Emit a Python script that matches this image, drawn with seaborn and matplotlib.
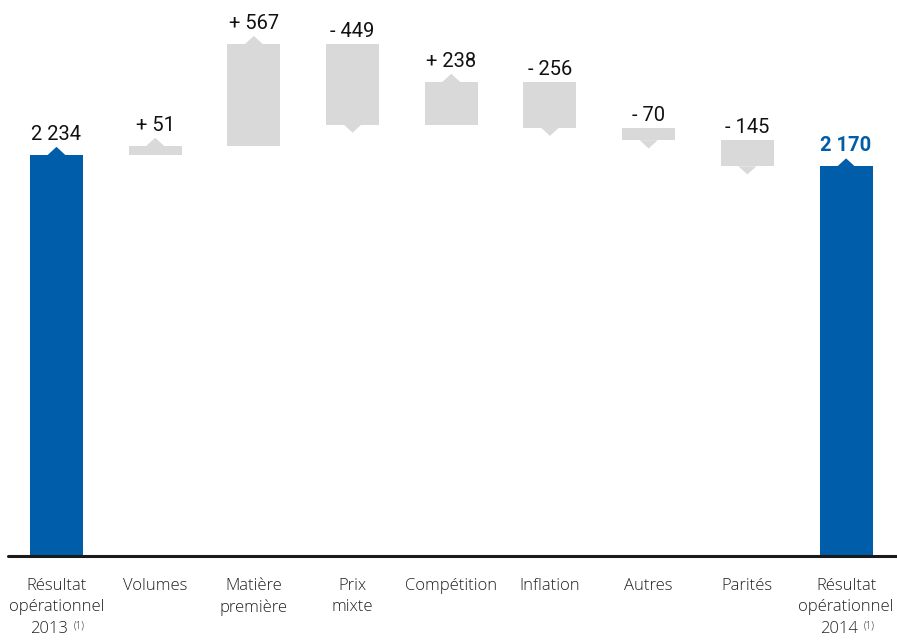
import numpy as np
import pandas as pd
import matplotlib
matplotlib.use("Agg")
import matplotlib.pyplot as plt
import matplotlib.transforms as mtrans
import seaborn as sns

# ---- data ----
categories = ["Résultat\nopérationnel\n2013", "Volumes", "Matière\npremière", "Prix\nmixte",
              "Compétition", "Inflation", "Autres", "Parités", "Résultat\nopérationnel\n2014"]
start_total = 2234
deltas = [51, 567, -449, 238, -256, -70, -145]
end_total = 2170
value_labels = ["2 234", "+ 51", "+ 567", "- 449", "+ 238", "- 256", "- 70", "- 145", "2 170"]
footnote_idx = [0, 8]

BLUE = "#005DAA"
GREY = "#D9D9D9"

# build waterfall geometry from data
bottoms = [0]
heights = [start_total]
level = start_total
for d in deltas:
    lo = min(level, level + d)
    bottoms.append(lo)
    heights.append(abs(d))
    level += d
bottoms.append(0)
heights.append(end_total)
kinds = ["total"] + ["up" if d > 0 else "down" for d in deltas] + ["total"]

df = pd.DataFrame({"cat": categories, "height": heights, "bottom": bottoms})

sns.set_theme(style="white")
plt.rcParams["font.family"] = ["Open Sans", "DejaVu Sans"]

fig = plt.figure(figsize=(8.97, 6.4), dpi=100)
ax = fig.add_axes([8 / 897, 84 / 640, 1 - 8 / 897, 556 / 640])

sns.barplot(data=df, x="cat", y="height", bottom=df["bottom"].values, color=GREY,
            width=0.537, ax=ax, saturation=1, linewidth=0, errorbar=None)
for p, k in zip(ax.patches, kinds):
    p.set_facecolor(BLUE if k == "total" else GREY)
    p.set_edgecolor("none")

ax.set_xlim(-0.491, 8.516)
ax.set_ylim(0, 3097)

tri_hw = 0.091
tri_h = 45
num_font = ["Roboto", "DejaVu Sans"]
for i, (b, h, k, lab) in enumerate(zip(bottoms, heights, kinds, value_labels)):
    top = b + h
    col = BLUE if k == "total" else GREY
    if k in ("total", "up"):
        ax.fill([i - tri_hw, i + tri_hw, i], [top - 1, top - 1, top + tri_h], color=col, lw=0)
        ytxt = top + tri_h
    else:
        ax.fill([i - tri_hw, i + tri_hw, i], [b + 1, b + 1, b - tri_h], color=col, lw=0)
        ytxt = top
    bold = (i == len(categories) - 1)
    ax.annotate(lab, (i, ytxt), xytext=(0, 5), textcoords="offset points",
                ha="center", va="baseline", fontsize=14.5,
                family=num_font, color=BLUE if bold else "#111111",
                fontweight="bold" if bold else "normal")

# axis line
ax.axhline(0, color="#1a1a1a", lw=2.2, clip_on=False)
for s in ax.spines.values():
    s.set_visible(False)
ax.set_yticks([])
ax.set_xticks([])
ax.set_xlabel("")
ax.set_ylabel("")

# category labels
trans = mtrans.blended_transform_factory(ax.transData, ax.transAxes)
lab_col = "#222222"
for i, c in enumerate(categories):
    lines = c.split("\n")
    for j, ln in enumerate(lines):
        yoff = -21.5 - j * 15.5
        if i in footnote_idx and j == 2:
            ax.annotate(ln, (i, 0), xycoords=trans, xytext=(8.3, yoff),
                        textcoords="offset points", ha="right", va="center",
                        fontsize=12, color=lab_col, fontweight="light")
            ax.annotate("(1)", (i, 0), xycoords=trans, xytext=(12.6, yoff + 2),
                        textcoords="offset points", ha="left", va="center",
                        fontsize=7, color=lab_col, fontweight="light")
        else:
            ax.annotate(ln, (i, 0), xycoords=trans, xytext=(0, yoff),
                        textcoords="offset points", ha="center", va="center",
                        fontsize=12, color=lab_col, fontweight="light")

fig.savefig("out.png", dpi=100)
